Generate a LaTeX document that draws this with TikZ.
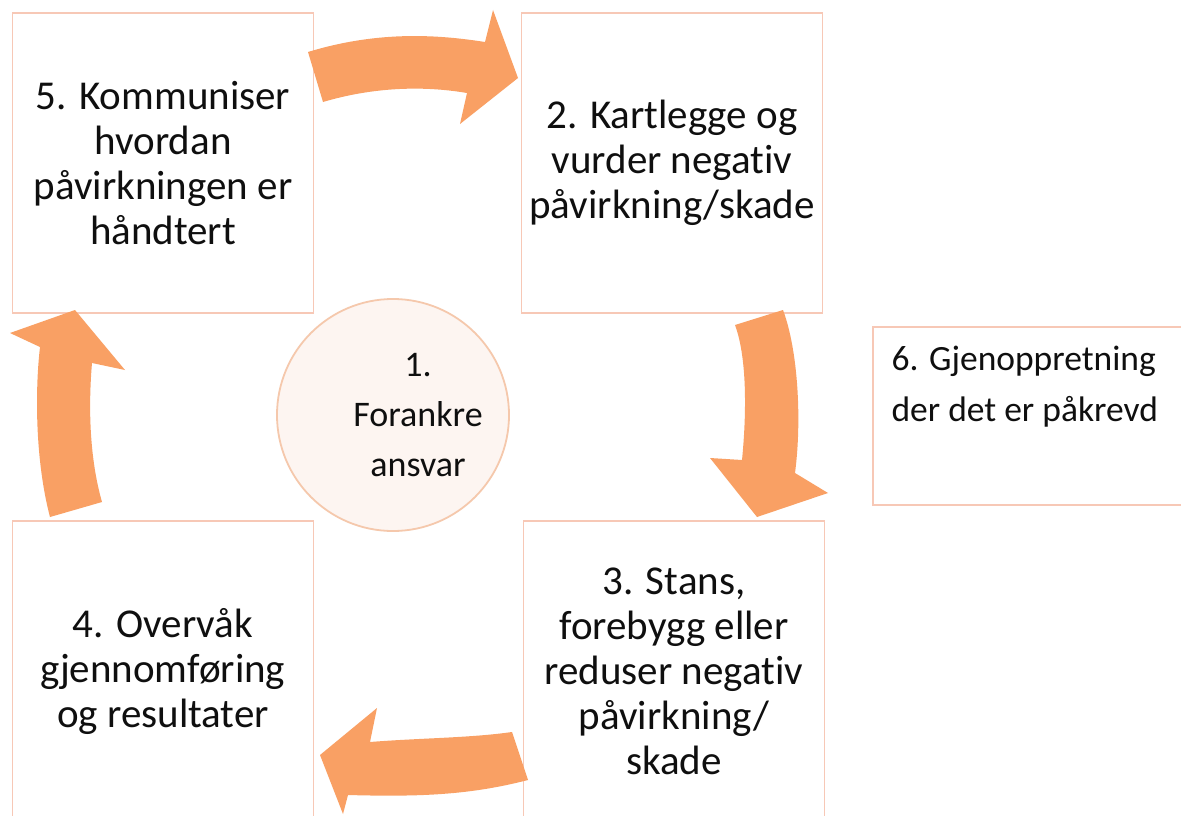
\documentclass[tikz,border=0pt]{standalone}
\usepackage{fontspec}
\setmainfont[Ligatures=NoCommon]{Carlito}
\definecolor{boxline}{RGB}{247,200,182}
\definecolor{circfill}{RGB}{253,245,241}
\definecolor{circline}{RGB}{245,200,172}
\definecolor{arrowor}{RGB}{249,160,100}
\definecolor{txt}{RGB}{15,15,15}
\tikzset{
  stepbox/.style={draw=boxline, line width=1.3pt, fill=white, minimum width=301pt, minimum height=300pt, inner sep=0pt, align=center, text=txt, font=\fontsize{41}{45}\selectfont},
  ringarrow/.style={fill=arrowor, draw=none}
}
\begin{document}
\begin{tikzpicture}[x=1pt,y=-1pt]
\useasboundingbox (0,0) rectangle (1181,816);
\fill[white] (0,0) rectangle (1181,816);
% boxes
\node[stepbox] (b5) at (163,163) {5. Kommuniser\\hvordan\\påvirkningen er\\håndtert};
\node[stepbox] (b2) at (672,163) {2. Kartlegge og\\vurder negativ\\påvirkning/skade};
\node[stepbox] (b3) at (674,671) {3. Stans,\\forebygg eller\\reduser negativ\\påvirkning/\\skade};
\node[stepbox] (b4) at (163,671) {4. Overvåk\\gjennomføring\\og resultater};
\node[draw=boxline, line width=1.3pt, fill=white, minimum width=320pt, minimum height=178pt, inner sep=0pt] (b6) at (1033,416) {};
\node[anchor=north west, align=left, inner sep=0pt, text=txt, font=\fontsize{35.5}{51}\selectfont] (t6) at ([xshift=19pt,yshift=-20pt]b6.north west) {6. Gjenoppretning\\der det er påkrevd};
% circle
\node[circle, draw=circline, line width=1.8pt, fill=circfill, minimum size=232pt, inner sep=0pt] (c1) at (393,415) {};
\node[align=center, text=txt, font=\fontsize{36}{50}\selectfont, inner sep=0pt] (t1) at (418,415) {1.\\Forankre\\ansvar};
% arrows
\fill[ringarrow] (308,52) .. controls (380,30) and (440,35) .. (485,42) -- (493,10) -- (518,78) -- (460,124) -- (467,93) .. controls (420,85) and (370,88) .. (323,102) -- cycle;
\fill[ringarrow] (735,325) -- (783,310) .. controls (798,350) and (802,420) .. (795,473) -- (828,493) -- (757,517) -- (710,458) -- (742,460) .. controls (746,420) and (748,360) .. (735,325) -- cycle;
\fill[ringarrow] (512,732) -- (528,780) .. controls (470,795) and (420,797) .. (348,795) -- (343,814) -- (320,755) -- (377,708) -- (370,742) .. controls (420,738) and (470,738) .. (512,732) -- cycle;
\fill[ringarrow] (50,517) -- (102,502) .. controls (90,460) and (88,410) .. (92,363) -- (125,370) -- (75,310) -- (10,333) -- (40,347) .. controls (35,390) and (35,460) .. (50,517) -- cycle;
\end{tikzpicture}
\end{document}
